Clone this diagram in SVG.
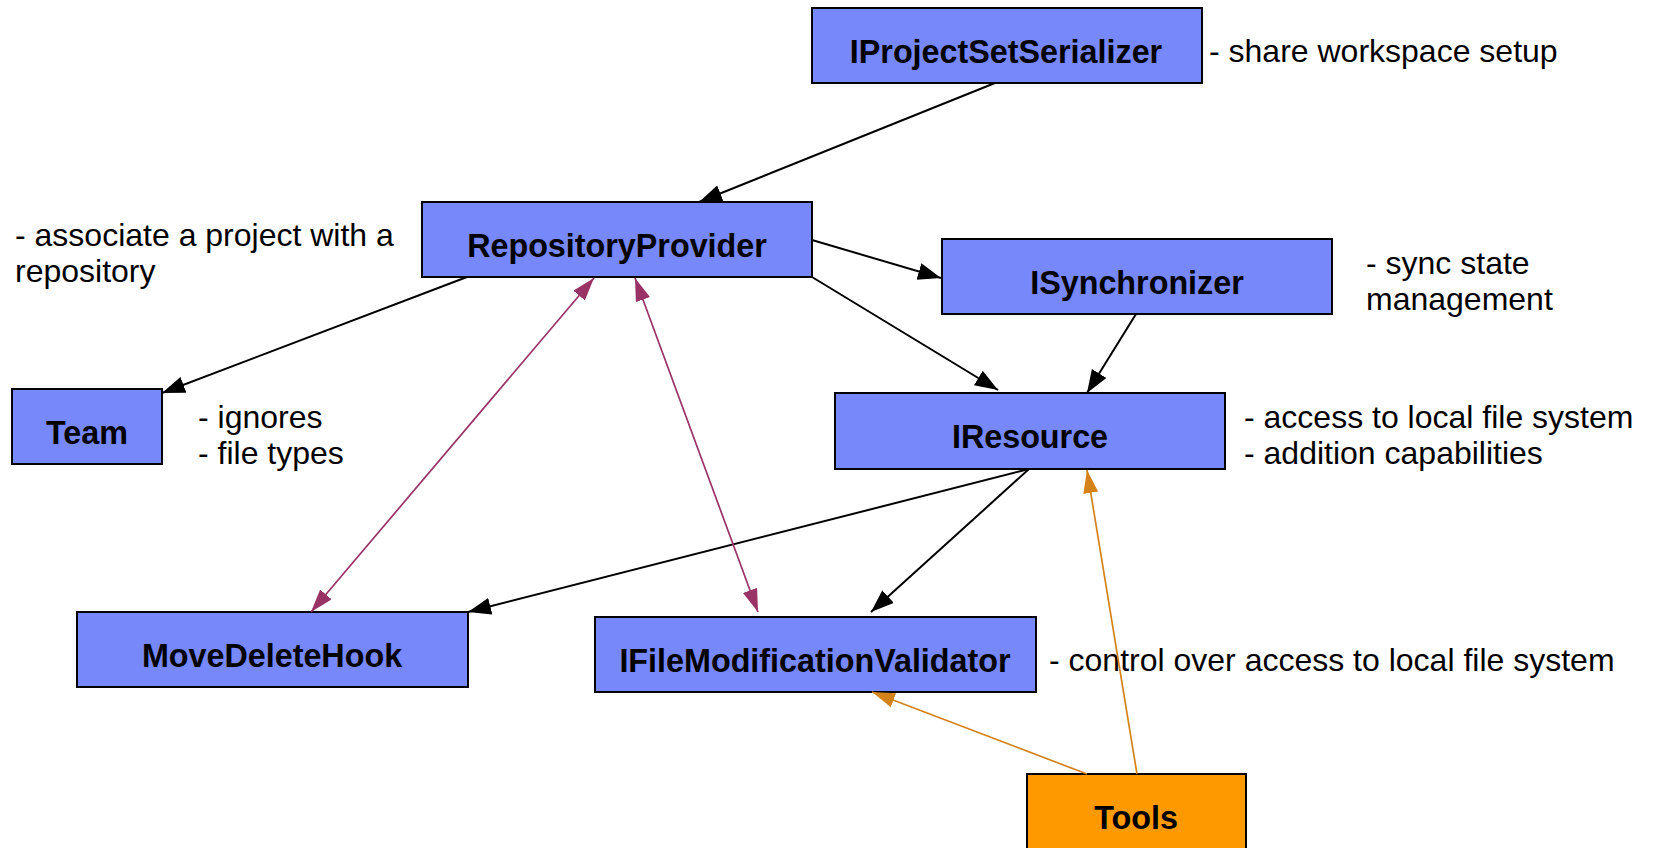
<svg xmlns="http://www.w3.org/2000/svg" width="1655" height="848" viewBox="0 0 1655 848">
  <style>
    .box { fill: #7788fa; stroke: #000; stroke-width: 2; }
    .tool { fill: #ff9900; stroke: #000; stroke-width: 2; }
    .name { font-family: "Liberation Sans", Arial, sans-serif; font-weight: bold; font-size: 32.3px; fill: #000; text-anchor: middle; }
    .note { font-family: "Liberation Sans", Arial, sans-serif; font-size: 32px; fill: #000; }
    .dep { stroke: #000; stroke-width: 2; fill: none; marker-end: url(#arrowBlack); }
    .link { stroke: #993366; stroke-width: 1.7; fill: none; marker-start: url(#arrowPurple); marker-end: url(#arrowPurple); }
    .use { stroke: #d4831a; stroke-width: 1.7; fill: none; marker-end: url(#arrowOrange); }
  </style>
  <defs>
    <marker id="arrowBlack" markerUnits="userSpaceOnUse" markerWidth="24" markerHeight="18" refX="23" refY="8.5" orient="auto">
      <path d="M0,0 L23,8.5 L0,17 z" fill="#000"/>
    </marker>
    <marker id="arrowPurple" markerUnits="userSpaceOnUse" markerWidth="24" markerHeight="16" refX="23" refY="7.5" orient="auto-start-reverse">
      <path d="M0,0 L23,7.5 L0,15 z" fill="#993366"/>
    </marker>
    <marker id="arrowOrange" markerUnits="userSpaceOnUse" markerWidth="24" markerHeight="16" refX="23" refY="7.5" orient="auto">
      <path d="M0,0 L23,7.5 L0,15 z" fill="#d4831a"/>
    </marker>
  </defs>

  <rect width="1655" height="848" fill="#fff"/>

  <!-- nodes -->
  <g id="IProjectSetSerializer">
    <rect class="box" x="812" y="8" width="390" height="75"/>
    <text class="name" x="1006" y="63">IProjectSetSerializer</text>
    <text class="note" x="1209" y="62">- share workspace setup</text>
  </g>
  <g id="RepositoryProvider">
    <rect class="box" x="422" y="202" width="390" height="75"/>
    <text class="name" x="617" y="257">RepositoryProvider</text>
    <text class="note" x="15" y="246">- associate a project with a</text>
    <text class="note" x="15" y="282">repository</text>
  </g>
  <g id="ISynchronizer">
    <rect class="box" x="942" y="239" width="390" height="75"/>
    <text class="name" x="1137" y="294">ISynchronizer</text>
    <text class="note" x="1366" y="274">- sync state</text>
    <text class="note" x="1366" y="310">management</text>
  </g>
  <g id="Team">
    <rect class="box" x="12" y="389" width="150" height="75"/>
    <text class="name" x="87" y="444">Team</text>
    <text class="note" x="198" y="428">- ignores</text>
    <text class="note" x="198" y="464">- file types</text>
  </g>
  <g id="IResource">
    <rect class="box" x="835" y="393" width="390" height="76"/>
    <text class="name" x="1030" y="448">IResource</text>
    <text class="note" x="1244" y="428">- access to local file system</text>
    <text class="note" x="1244" y="464">- addition capabilities</text>
  </g>
  <g id="MoveDeleteHook">
    <rect class="box" x="77" y="612" width="391" height="75"/>
    <text class="name" x="272" y="667">MoveDeleteHook</text>
  </g>
  <g id="IFileModificationValidator">
    <rect class="box" x="595" y="617" width="441" height="75"/>
    <text class="name" x="815" y="672">IFileModificationValidator</text>
    <text class="note" x="1049" y="671">- control over access to local file system</text>
  </g>
  <g id="Tools">
    <rect class="tool" x="1027" y="774" width="219" height="76"/>
    <text class="name" x="1136" y="829">Tools</text>
  </g>

  <!-- connectors -->
  <g id="connectors">
    <line class="dep" x1="995" y1="83" x2="699" y2="202"/>
    <line class="dep" x1="467" y1="277" x2="162" y2="393"/>
    <line class="dep" x1="812" y1="240" x2="941" y2="278"/>
    <line class="dep" x1="812" y1="277" x2="998" y2="390"/>
    <line class="dep" x1="1136" y1="314" x2="1087" y2="393"/>
    <line class="dep" x1="1029" y1="469" x2="468" y2="612"/>
    <line class="dep" x1="1029" y1="469" x2="871" y2="612"/>
    <line class="link" x1="594" y1="278" x2="311" y2="612"/>
    <line class="link" x1="635" y1="278" x2="758" y2="612"/>
    <line class="use" x1="1087" y1="774" x2="872" y2="692"/>
    <line class="use" x1="1137" y1="774" x2="1087" y2="470"/>
  </g>
</svg>
